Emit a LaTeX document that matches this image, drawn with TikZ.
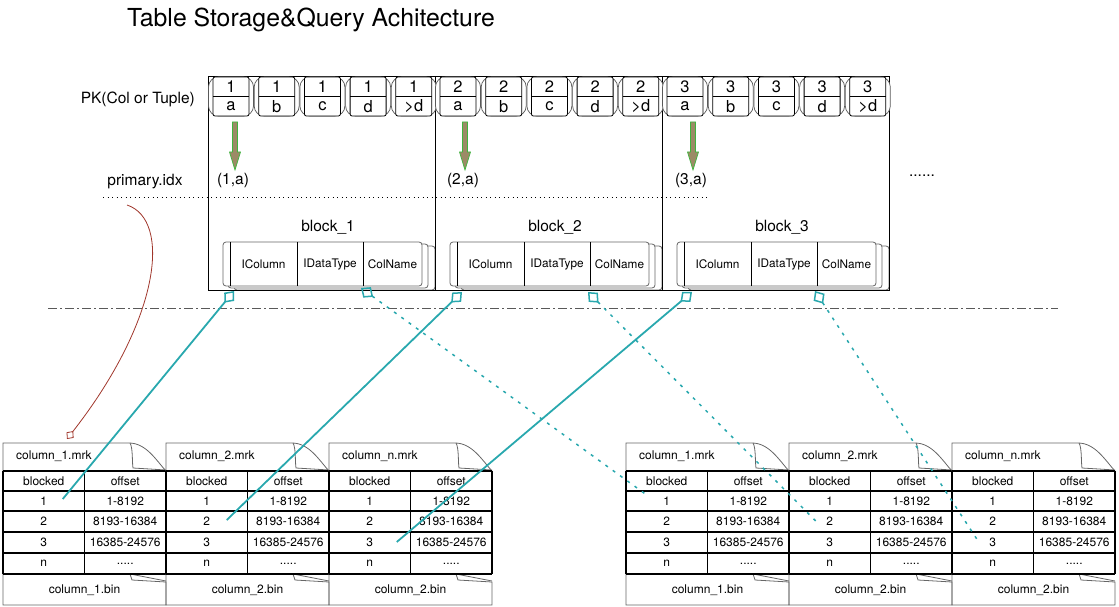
\documentclass[tikz,border=0pt]{standalone}
\usepackage{fontspec}
\setmainfont{TeX Gyre Heros}
\usetikzlibrary{arrows.meta,calc,positioning}
\definecolor{linkteal}{HTML}{29A8AE}
\definecolor{idxbrown}{HTML}{A0362B}
\definecolor{pkfill}{HTML}{9C8B66}
\definecolor{pkedge}{HTML}{3DB53D}
\newcommand\restdots{.....}

\tikzset{
  lbl/.style={font=\fontsize{15.5}{18}\selectfont, inner sep=1pt},
  celltxt/.style={font=\fontsize{16.5}{18}\selectfont, inner sep=0pt},
  coltxt/.style={font=\fontsize{11.8}{14}\selectfont, inner sep=0pt},
  filetxt/.style={font=\fontsize{12}{14}\selectfont, inner sep=0pt},
  outercap/.style={draw=black!65, fill=white, line width=0.7pt, rounded corners=10pt},
  innercell/.style={draw=black, line width=0.8pt, rounded corners=2pt},
  blockframe/.style={draw=black, line width=1pt},
  card/.style={draw=black!60, fill=white, line width=0.8pt, rounded corners=3pt},
  pkarrow/.style={draw=pkedge, fill=pkfill, line width=0.7pt},
  teallink/.style={draw=linkteal, line width=1.8pt,
    {Diamond[open,length=15pt,width=13pt,line width=1.5pt]}-},
  tealdots/.style={teallink, dash pattern=on 3pt off 6pt, line width=1.5pt},
  idxlink/.style={draw=idxbrown, line width=0.8pt,
    -{Diamond[open,length=10pt,width=9pt,line width=0.8pt]}},
  filegray/.style={draw=black!60, line width=0.8pt},
  filegrid/.style={draw=black, line width=1.5pt}
}

\begin{document}
\begin{tikzpicture}[x=1pt,y=-1pt]
\useasboundingbox (0,0) rectangle (1119,607);

%Title
\node[font=\fontsize{24.8}{28}\selectfont] (title) at (311,20) {Table Storage\&Query Achitecture};
\node[lbl, anchor=east] (pk) at (196,99) {PK(Col or Tuple)};
\node[lbl] (pidx) at (145,182) {primary.idx};
\node[lbl] (more) at (922,176) {......};

%Cards inside the blocks
\foreach \b in {1,2,3}{
  \pgfmathsetmacro\B{208+227*(\b-1)}
  \draw[card] (\B+26,246) rectangle (\B+227,290);
  \draw[card] (\B+20,244) rectangle (\B+220,288);
  \draw[card] (\B+15,242) rectangle (\B+214,286);
  \draw (\B+22,242) -- (\B+22,286);
  \draw (\B+89,242) -- (\B+89,286);
  \draw (\B+155,242) -- (\B+155,286);
  \node[coltxt] (ic\b) at (\B+55.5,264.5) {IColumn};
  \node[coltxt] (dt\b) at (\B+122,264.5) {IDataType};
  \node[coltxt] (cn\b) at (\B+184.5,264.5) {ColName};
  \node[lbl] (blk\b) at (\B+120,227) {block\_\b};
  \draw[blockframe] (\B,77) rectangle (\B+227,290);
}

%Primary key cells
\foreach \b in {1,2,3}{
  \foreach \k/\ltr in {1/a,2/b,3/c,4/d,5/{>d}}{
    \pgfmathsetmacro\cx{231+227*(\b-1)+45.7*(\k-1)}
    \draw[outercap] (\cx-22.5,77) rectangle (\cx+22.5,116);
    \draw[innercell, fill=white] (\cx-18,77) rectangle (\cx+18,116);
    \draw[black, line width=0.8pt] (\cx-18,96.5) -- (\cx+18,96.5);
    \node[celltxt] (k\b\k n) at (\cx,87) {\b};
    \node[celltxt] (k\b\k l) at (\cx,106.5) {\ltr};
  }
}

%Key arrows
\foreach \ax/\b in {235/1,465/2,693/3}{
  \filldraw[pkarrow] (\ax-2.5,122) -- (\ax+2.5,122) -- (\ax+2.5,152) -- (\ax+5.5,152)
    -- (\ax,170) -- (\ax-5.5,152) -- (\ax-2.5,152) -- cycle;
  \node[lbl] (key\b) at (\ax-2,180) {(\b,a)};
}

%Separators
\draw[black, line width=0.8pt, dash pattern=on 1pt off 3.5pt] (103,197) -- (710,197);
\draw[black!65, line width=1pt, dash pattern=on 9pt off 3pt on 2pt off 3pt] (48,308) -- (1058,308);

%Mark files
\foreach \L/\fid/\mk/\bn in {3/A/column\_1.mrk/column\_1.bin, 166/B/column\_2.mrk/column\_2.bin,
    329/C/column\_n.mrk/column\_2.bin, 626/D/column\_1.mrk/column\_1.bin,
    789/E/column\_2.mrk/column\_2.bin, 952/F/column\_n.mrk/column\_2.bin}{
  \draw[filegray] (\L,471) -- (\L,443) -- (\L+126,443)
    .. controls (\L+143,443) and (\L+153,460) .. (\L+163,471);
  \draw[filegray] (\L+127,443) .. controls (\L+130,448) and (\L+129,462) .. (\L+130,468) -- (\L+163,470);
  \draw[filegray] (\L,574) -- (\L,605) -- (\L+163,605) -- (\L+163,582) -- (\L+129,580) -- (\L+127,574);
  \draw[filegray] (\L+127,574) -- (\L+163,581);
  \foreach \ry in {471,491,511,532,553,574}
    \draw[filegrid] (\L,\ry) -- (\L+163,\ry);
  \foreach \rx in {0,81.5,163}
    \draw[filegrid] (\L+\rx,471) -- (\L+\rx,574);
  \node[filetxt, anchor=west] (\fid-mrk) at (\L+13,456) {\mk};
  \node[filetxt] (\fid-hb) at (\L+40.75,481) {blocked};
  \node[filetxt] (\fid-ho) at (\L+122.25,481) {offset};
  \foreach \r/\ry/\off in {1/501/1-8192, 2/521.5/8193-16384, 3/542.5/16385-24576, n/563.5/\restdots}{
    \node[filetxt] (\fid-\r) at (\L+40.75,\ry) {\r};
    \node[filetxt] (\fid-\r o) at (\L+122.25,\ry) {\off};
  }
  \node[filetxt] (\fid-bin) at (\L+81.5,590) {\bn};
}

%Links from blocks to marks
\coordinate (s1) at (234,291);
\coordinate (s2) at (462,292);
\coordinate (s3) at (692,292);
\coordinate (t1) at (361,288);
\coordinate (t2) at (588,292);
\coordinate (t3) at (815,291);
\coordinate (e1) at ($(A-1)+(19,-2)$);
\coordinate (e2) at ($(B-2)+(20,-1.5)$);
\coordinate (e3) at ($(C-3)+(27,-0.5)$);
\coordinate (d1) at ($(D-1)+(-20,-6)$);
\coordinate (d2) at ($(E-2)+(-14,-0.5)$);
\coordinate (d3) at ($(F-3)+(-14,-0.5)$);
\draw[teallink] (s1) -- (e1);
\draw[teallink] (s2) -- (e2);
\draw[teallink] (s3) -- (e3);
\draw[tealdots] (t1) -- (d1);
\draw[tealdots] (t2) -- (d2);
\draw[tealdots] (t3) -- (d3);

%Index to first mark
\coordinate (idxfrom) at (127,205);
\coordinate (idxto) at (67,439);
\draw[idxlink] (idxfrom) .. controls (172,220) and (160,320) .. (idxto);
\end{tikzpicture}
\end{document}
